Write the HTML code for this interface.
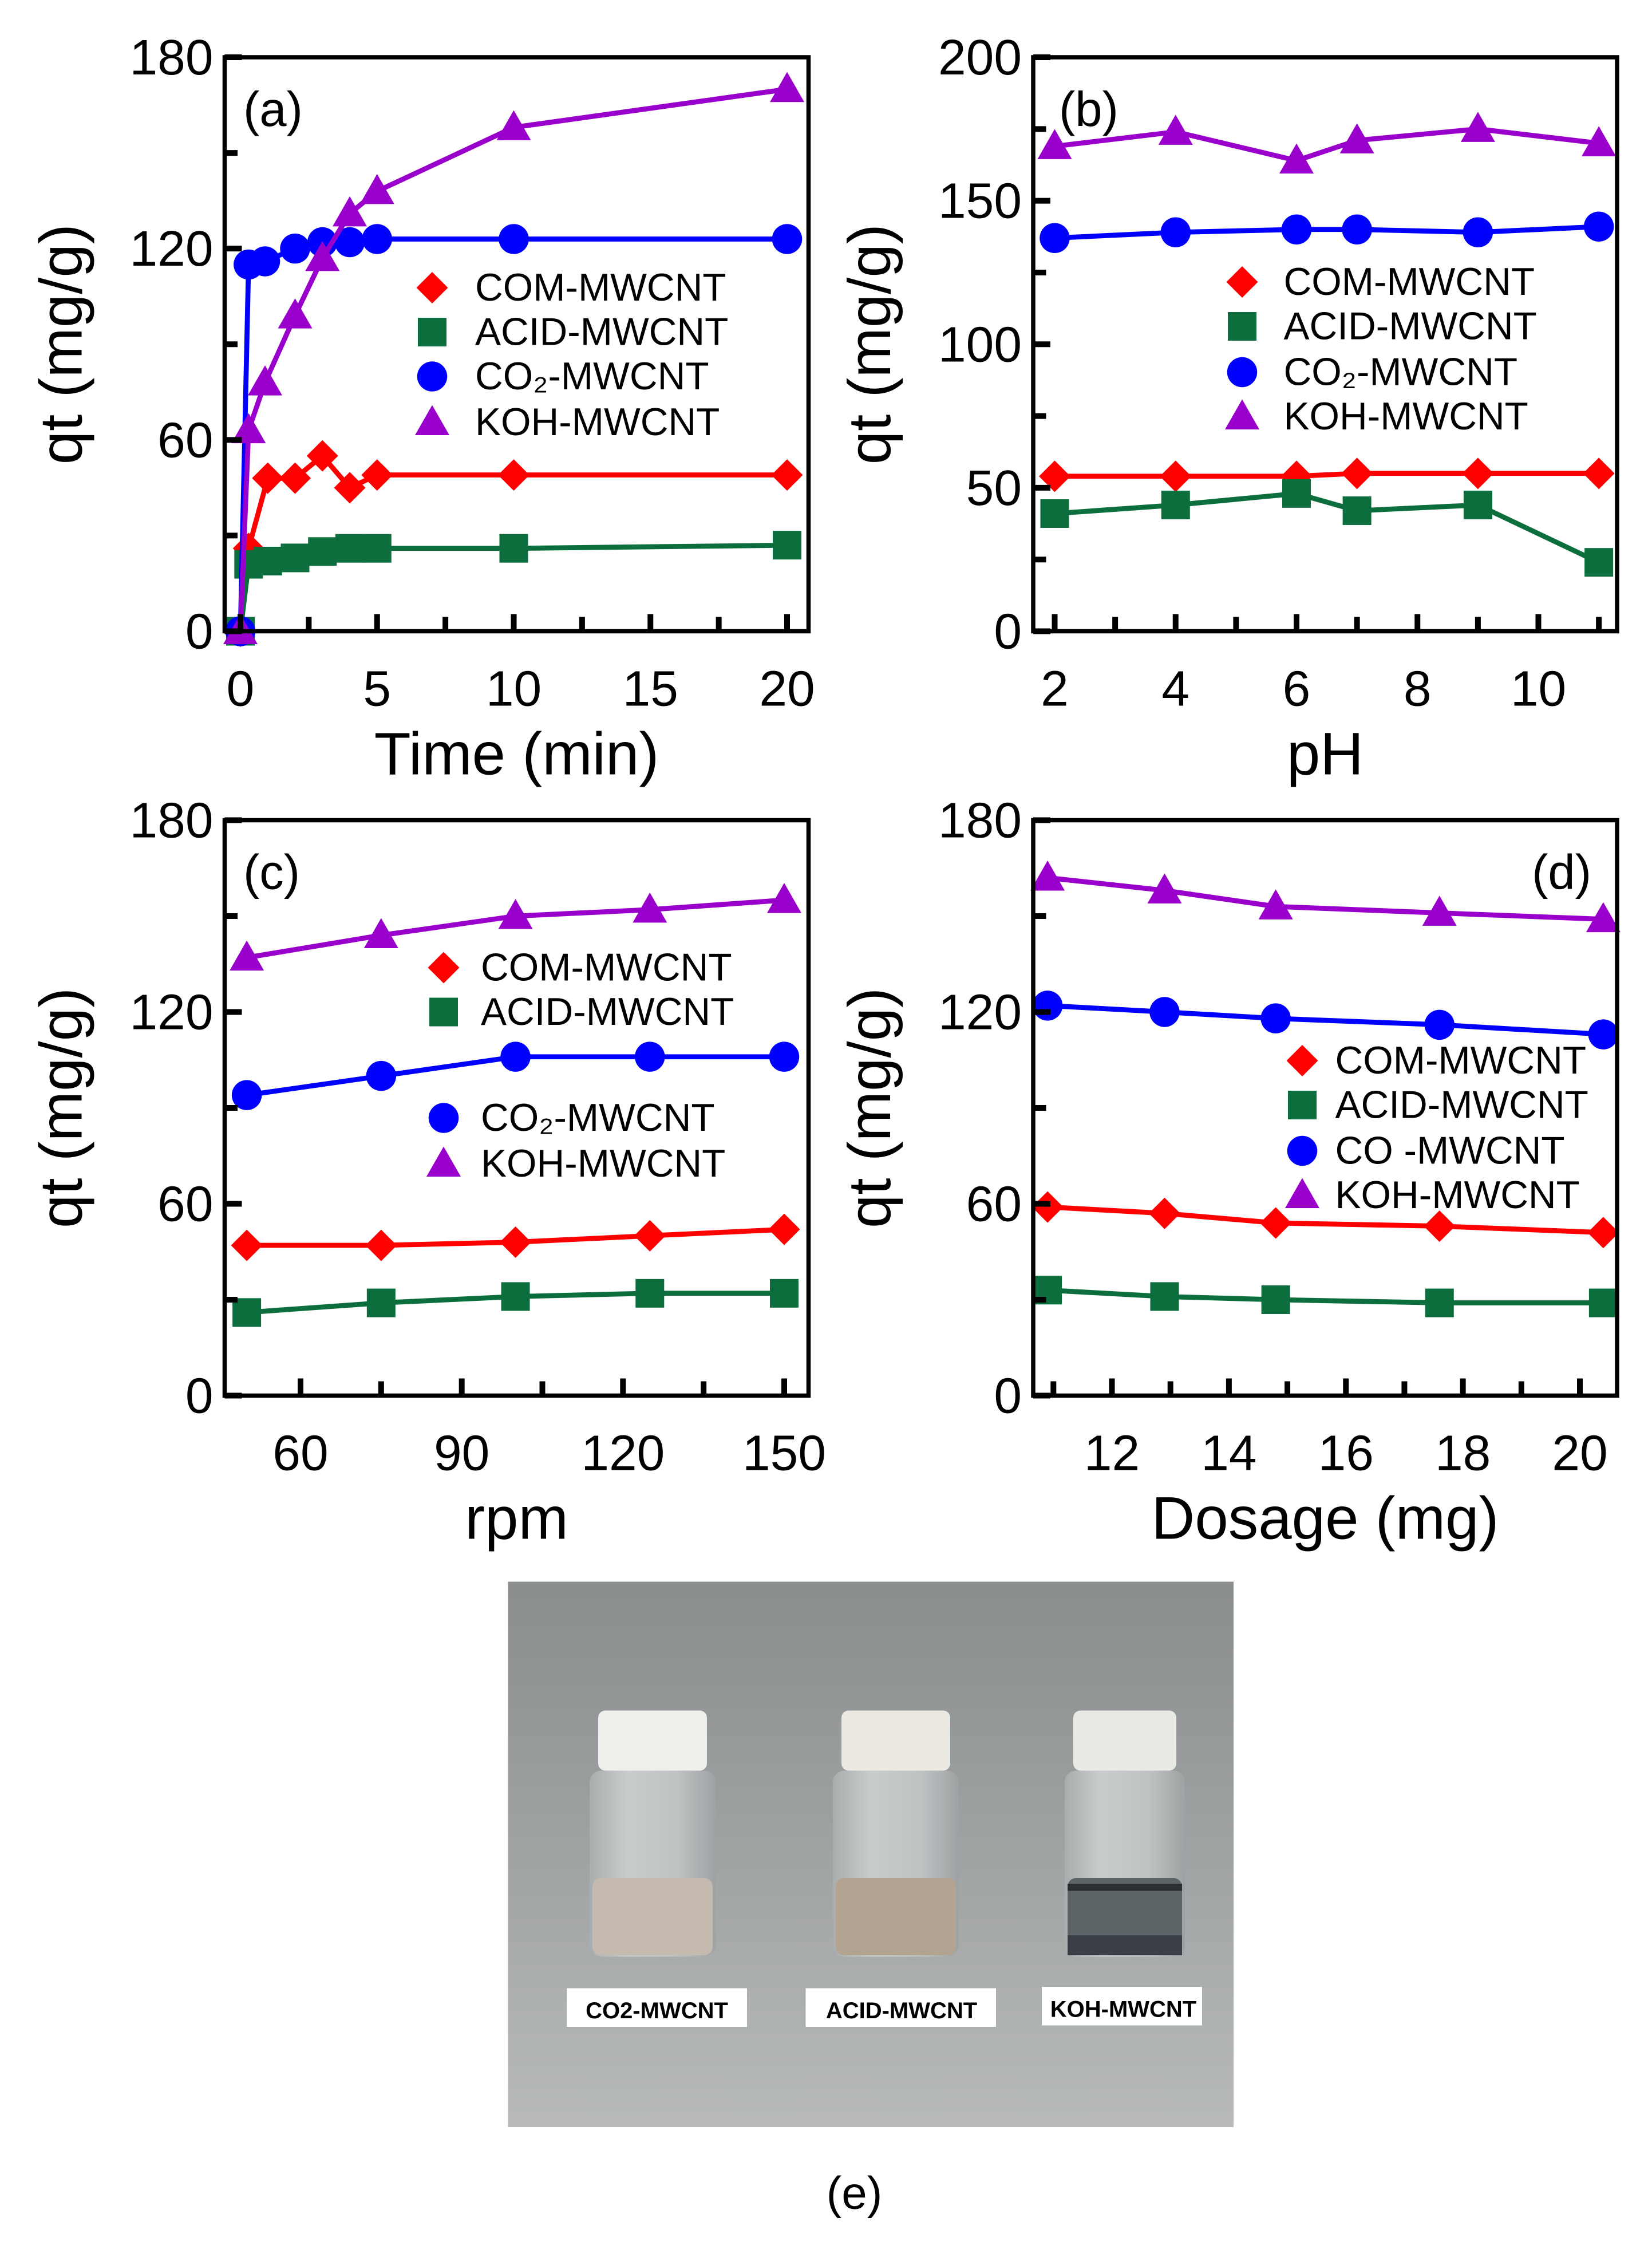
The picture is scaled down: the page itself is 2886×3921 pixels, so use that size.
<!DOCTYPE html>
<html><head><meta charset="utf-8"><style>
html,body{margin:0;padding:0;background:#fff;}
svg{display:block;}
text{font-family:"Liberation Sans",Arial,sans-serif;}
</style></head><body>
<svg id="s" xmlns="http://www.w3.org/2000/svg" width="2886" height="3921" viewBox="0 0 1154.4 1568.4">
<rect width="1154.4" height="1568.4" fill="#fff"/>
<defs>
<linearGradient id="bg" x1="0" y1="0" x2="0" y2="1">
<stop offset="0" stop-color="#8a8d8e"/><stop offset="0.55" stop-color="#a2a5a6"/><stop offset="1" stop-color="#b8babb"/>
</linearGradient>
<linearGradient id="glass" x1="0" y1="0" x2="1" y2="0">
<stop offset="0" stop-color="#a9adae"/><stop offset="0.3" stop-color="#c9cccd"/><stop offset="0.7" stop-color="#bfc2c3"/><stop offset="1" stop-color="#9ea2a3"/>
</linearGradient>
</defs>
<g id="g"></g>
<rect x="355" y="1105" width="507" height="381" fill="url(#bg)"/>
<g>
<rect x="418" y="1195" width="76" height="42" rx="5" fill="#eeeeea"/>
<rect x="412" y="1237" width="88" height="130" rx="8" fill="url(#glass)"/>
<rect x="414" y="1312" width="84" height="54" rx="6" fill="#c4bab0"/>
<rect x="588" y="1195" width="76" height="42" rx="5" fill="#ece9e2"/>
<rect x="582" y="1237" width="88" height="130" rx="8" fill="url(#glass)"/>
<rect x="584" y="1312" width="84" height="54" rx="6" fill="#b3a491"/>
<rect x="750" y="1195" width="72" height="42" rx="5" fill="#e9eae6"/>
<rect x="744" y="1237" width="84" height="130" rx="8" fill="url(#glass)"/>
<rect x="746" y="1312" width="80" height="54" rx="6" fill="#5d6468"/>
<rect x="746" y="1316" width="80" height="5" fill="#2a2f33"/>
<rect x="746" y="1352" width="80" height="14" fill="#3a4045"/>
</g>
<rect x="396" y="1389" width="126" height="27" fill="#fff"/>
<text x="459" y="1410" font-size="16" font-weight="bold" text-anchor="middle">CO2-MWCNT</text>
<rect x="563" y="1389" width="133" height="27" fill="#fff"/>
<text x="630" y="1410" font-size="16" font-weight="bold" text-anchor="middle">ACID-MWCNT</text>
<rect x="728" y="1388" width="112" height="27" fill="#fff"/>
<text x="785" y="1409" font-size="16" font-weight="bold" text-anchor="middle">KOH-MWCNT</text>
<text x="597" y="1543" font-size="32" text-anchor="middle">(e)</text>
</svg>
<script>
var NS="http://www.w3.org/2000/svg",G=document.getElementById("g");
function el(t,a,txt){var e=document.createElementNS(NS,t);for(var k in a)e.setAttribute(k,a[k]);if(txt!=null)e.textContent=txt;G.appendChild(e);return e;}
var C={com:"#ff0000",acid:"#0c6e3c",co2:"#0000ff",koh:"#9900cc"};
function mark(type,x,y){
 var c=C[type];
 if(type=="com")el("polygon",{points:(x)+","+(y-11)+" "+(x+11)+","+y+" "+x+","+(y+11)+" "+(x-11)+","+y,fill:c});
 else if(type=="acid")el("rect",{x:x-10,y:y-10,width:20,height:20,fill:c});
 else if(type=="co2")el("circle",{cx:x,cy:y,r:10.5,fill:c});
 else el("polygon",{points:x+","+(y-12)+" "+(x+12)+","+(y+9)+" "+(x-12)+","+(y+9),fill:c});
}
function panel(p){
 var X=function(v){return p.x0+(v-p.xa)*(p.x1-p.x0)/(p.xb-p.xa);};
 var Y=function(v){return p.by-(v)*(p.by-p.ty)/p.ymax;};
 ["com","acid","co2","koh"].forEach(function(k){
  var d=p.s[k],pts=d.map(function(q){return X(q[0]).toFixed(1)+","+Y(q[1]).toFixed(1);}).join(" ");
  el("polyline",{points:pts,fill:"none",stroke:C[k],"stroke-width":3.5,"stroke-linejoin":"round"});
  d.forEach(function(q){mark(k,X(q[0]),Y(q[1]));});
 });
 el("rect",{x:p.lx,y:p.ty,width:p.rx-p.lx,height:p.by-p.ty,fill:"none",stroke:"#000","stroke-width":3});
 var st=p.ystep;
 for(var v=0;v<=p.ymax+0.01;v+=st/2){var y=Y(v),maj=Math.abs(v/st-Math.round(v/st))<0.01;
  el("line",{x1:p.lx,x2:p.lx+(maj?12:9),y1:y,y2:y,stroke:"#000","stroke-width":4});
  if(maj)el("text",{x:p.lx-8,y:y+12,"font-size":35,"text-anchor":"end"},String(v));}
 p.xt.forEach(function(v){var x=X(v);el("line",{x1:x,x2:x,y1:p.by,y2:p.by-12,stroke:"#000","stroke-width":4});
  el("text",{x:x,y:p.by+52,"font-size":35,"text-anchor":"middle"},String(v));});
 (p.xm||[]).forEach(function(v){var x=X(v);el("line",{x1:x,x2:x,y1:p.by,y2:p.by-10,stroke:"#000","stroke-width":4});});
 el("text",{x:(p.lx+p.rx)/2,y:p.by+100,"font-size":42,"text-anchor":"middle"},p.xl);
 el("text",{x:0,y:0,"font-size":42,"text-anchor":"middle",transform:"translate("+(p.lx-100)+","+((p.ty+p.by)/2)+") rotate(-90)"},"qt (mg/g)");
 el("text",{x:p.tag[0],y:p.tag[1],"font-size":34,"text-anchor":p.tag[2]||"start"},p.tag3);
 var names={com:"COM-MWCNT",acid:"ACID-MWCNT",co2:"CO\u2082-MWCNT",koh:"KOH-MWCNT"};
 ["com","acid","co2","koh"].forEach(function(k,i){var y=p.leg[2][i];mark(k,p.leg[0],y);
  el("text",{x:p.leg[1],y:y+9,"font-size":27},(p.d&&k=="co2")?"CO    -MWCNT":names[k]);});
}
panel({lx:157,rx:565,ty:40,by:441,ymax:180,ystep:60,x0:168,x1:550,xa:0,xb:20,xt:[0,5,10,15,20],xm:[2.5,7.5,12.5,17.5],xl:"Time (min)",tag:[170,88],tag3:"(a)",
 leg:[302,332,[201,232,263,295]],
 s:{koh:[[0,0],[0.3,63],[0.9,78],[2,99],[3,117],[4,131],[5,138],[10,158],[20,170]],
 co2:[[0,0],[0.3,115],[0.9,116],[2,120],[3,122],[4,122],[5,123],[10,123],[20,123]],
 com:[[0,0],[0.3,26],[1,48],[2,48],[3,55],[4,45],[5,49],[10,49],[20,49]],
 acid:[[0,0],[0.3,21],[1,22],[2,23],[3,25],[4,26],[5,26],[10,26],[20,27]]}});
panel({lx:722,rx:1130,ty:40,by:441,ymax:200,ystep:50,x0:737,x1:1075,xa:2,xb:10,xt:[2,4,6,8,10],xm:[3,5,7,9,11],xl:"pH",tag:[740,88],tag3:"(b)",
 leg:[868,897,[197,228,260,291]],
 s:{koh:[[2,169],[4,174],[6,164],[7,171],[9,175],[11,170]],co2:[[2,137],[4,139],[6,140],[7,140],[9,139],[11,141]],
 com:[[2,54],[4,54],[6,54],[7,55],[9,55],[11,55]],acid:[[2,41],[4,44],[6,48],[7,42],[9,44],[11,24]]}});
panel({lx:157,rx:565,ty:573,by:975,ymax:180,ystep:60,x0:210,x1:548,xa:60,xb:150,xt:[60,90,120,150],xm:[75,105,135],xl:"rpm",tag:[170,621],tag3:"(c)",
 leg:[310,336,[676,707,781,813]],
 s:{koh:[[50,137],[75,144],[100,150],[125,152],[150,155]],co2:[[50,94],[75,100],[100,106],[125,106],[150,106]],
 com:[[50,47],[75,47],[100,48],[125,50],[150,52]],acid:[[50,26],[75,29],[100,31],[125,32],[150,32]]}});
panel({lx:722,rx:1130,ty:573,by:975,ymax:180,ystep:60,x0:777,x1:1104,xa:12,xb:20,xt:[12,14,16,18,20],xm:[11,13,15,17,19],xl:"Dosage (mg)",tag:[1112,621,"end"],tag3:"(d)",d:1,
 leg:[910,933,[741,772,804,835]],
 s:{koh:[[10.9,162],[12.9,158],[14.8,153],[17.6,151],[20.4,149]],co2:[[10.9,122],[12.9,120],[14.8,118],[17.6,116],[20.4,113]],
 com:[[10.9,59],[12.9,57],[14.8,54],[17.6,53],[20.4,51]],acid:[[10.9,33],[12.9,31],[14.8,30],[17.6,29],[20.4,29]]}});
</script>
</body></html>
